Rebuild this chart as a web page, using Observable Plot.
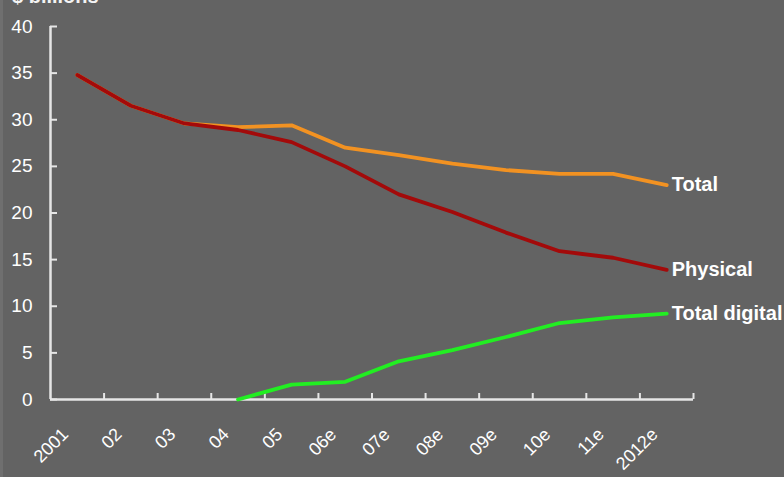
<!DOCTYPE html>
<html>
<head>
<meta charset="utf-8">
<script src="https://cdn.jsdelivr.net/npm/d3@7"></script>
<script src="https://cdn.jsdelivr.net/npm/@observablehq/plot@0.6"></script>
<style>
  html, body { margin: 0; padding: 0; background: #636363; overflow: hidden; }
  #wrap { position: relative; width: 784px; height: 477px; }
  #title { position: absolute; top: -15px; left: 12px; color: #f4f4f4; font: bold 20px "Liberation Sans", Arial, sans-serif; }
  #edge { position: absolute; top: 0; left: 0; width: 3px; height: 477px; background: #6f6f6f; }
</style>
</head>
<body>
<div id="wrap">
  <div id="title">$ billions</div>
  <div id="edge"></div>
  <div id="chart"></div>
</div>
<script>
const years = ["2001","02","03","04","05","06e","07e","08e","09e","10e","11e","2012e"];
const physical = [34.8, 31.5, 29.6, 28.9, 27.6, 25.0, 22.0, 20.1, 17.9, 15.9, 15.2, 13.9];
const total    = [34.8, 31.5, 29.6, 29.2, 29.4, 27.0, 26.2, 25.3, 24.6, 24.2, 24.2, 23.0];
const digital  = [null, null, null, 0, 1.6, 1.9, 4.1, 5.3, 6.7, 8.2, 8.8, 9.2];
const seriesNames = ["Total", "Physical", "Total digital"];
const seriesColors = ["#f29222", "#a30a0a", "#22ee22"];
const yTicks = [0, 5, 10, 15, 20, 25, 30, 35, 40];

const font = '"Liberation Sans", Arial, sans-serif';
const mk = (vals) => vals.map((v, i) => ({i: i + 0.5, v})).filter(d => d.v != null);
const series = [mk(total), mk(physical), mk(digital)];
const yearRows = years.map((y, i) => ({i: i + 0.5, label: y}));
const boundaries = d3.range(1, years.length + 1);
const ends = series.map((s, k) => ({...s[s.length - 1], name: seriesNames[k], color: seriesColors[k]}));

const chart = Plot.plot({
  width: 784,
  height: 477,
  marginLeft: 50,
  marginRight: 91,
  marginTop: 26,
  marginBottom: 78,
  style: {background: "#636363", color: "#ffffff", fontFamily: font, overflow: "visible"},
  x: {domain: [0, years.length], axis: null},
  y: {domain: [0, 40], axis: null},
  marks: [
    Plot.axisY(yTicks, {anchor: "left", tickSize: 0, tickPadding: 18, fontSize: 19, fill: "#ffffff", label: null}),
    Plot.axisY(yTicks, {anchor: "left", tickSize: 7, dx: 7, tickFormat: () => "", stroke: "#e6e6e6", strokeWidth: 2, label: null}),
    Plot.axisX(boundaries, {anchor: "bottom", tickSize: 6, dy: -6, tickFormat: () => "", stroke: "#e6e6e6", strokeWidth: 2, label: null}),
    Plot.ruleY([0], {stroke: "#e6e6e6", strokeWidth: 2.5}),
    Plot.ruleX([0], {stroke: "#e6e6e6", strokeWidth: 2.5}),
    Plot.text(yearRows, {x: "i", y: () => 0, text: "label", rotate: -45, textAnchor: "end", lineAnchor: "top", dx: -17, dy: 27, fontSize: 18, fill: "#ffffff"}),
    ...series.map((s, k) => Plot.line(s, {x: "i", y: "v", stroke: seriesColors[k], strokeWidth: 3.8, strokeLinejoin: "round"})),
    Plot.text(ends, {x: "i", y: "v", text: "name", textAnchor: "start", dx: 5, fontSize: 20, fontWeight: "bold", fill: "#ffffff"})
  ]
});
document.getElementById("chart").appendChild(chart);
</script>
</body>
</html>
